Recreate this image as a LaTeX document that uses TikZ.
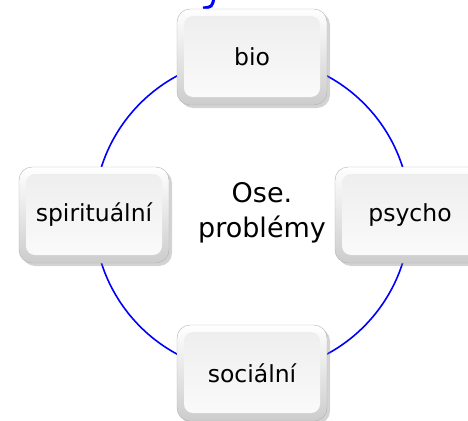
\documentclass[tikz,border=0pt]{standalone}
\usepackage{fontspec}
\setmainfont{DejaVu Sans}
\usetikzlibrary{shadows}

\begin{document}
\begin{tikzpicture}[
    x=1pt, y=-1pt,
    box/.style={draw=gray!60, rectangle, rounded corners=13pt,
        minimum width=150pt, minimum height=96pt,
        top color=white, bottom color=gray!40,
        drop shadow={shadow xshift=3pt, shadow yshift=-3pt, opacity=0.35, fill=gray},
        path picture={\shade[top color=gray!14, bottom color=gray!3, rounded corners=9pt]
            ([shift={(7pt,-7pt)}]path picture bounding box.north west) rectangle
            ([shift={(-7pt,8pt)}]path picture bounding box.south east);},
        font=\fontsize{23.5}{28}\selectfont},
    ring/.style={draw=blue, line width=1.6pt}
]
\clip (0,0) rectangle (468,420);

% Ring
\coordinate (mid) at (252,215);
\draw[ring] (mid) circle [radius=158pt];

% Title fragment
\draw[blue, line width=3pt] (214,-2) .. controls (212,7) .. (203,8);

% Boxes
\node[box] (bio) at (252,57) {bio};
\node[box] (psycho) at (410,215) {psycho};
\node[box] (socialni) at (252,373) {sociální};
\node[box] (spiritualni) at (94,215) {spirituální};

% Centre
\node[align=center, font=\fontsize{27}{35}\selectfont] (problem) at (262,213) {Ose.\\problémy};

\end{tikzpicture}
\end{document}
